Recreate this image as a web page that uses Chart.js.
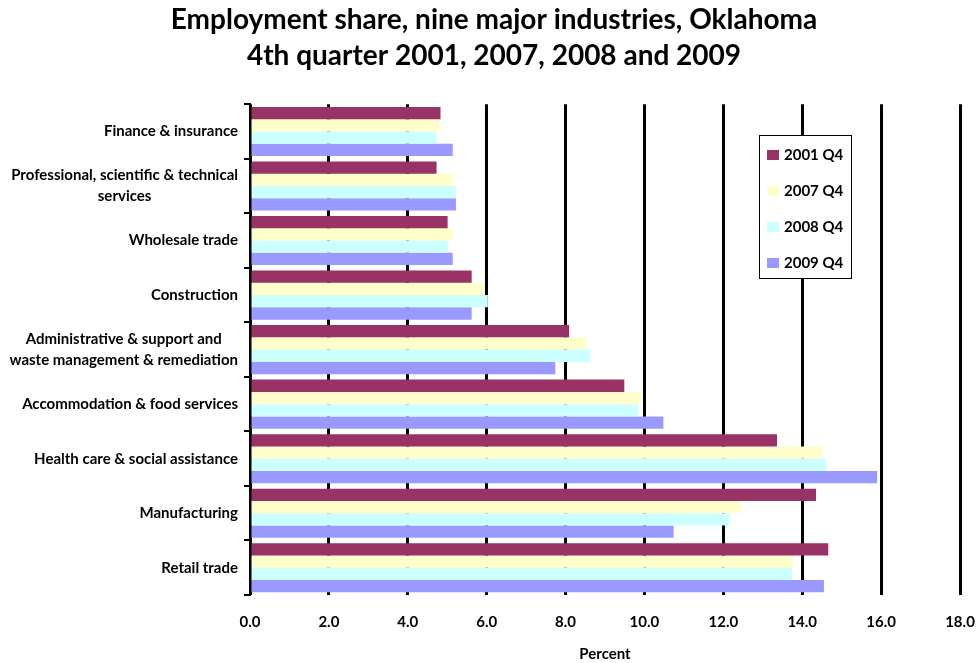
<!DOCTYPE html>
<html>
<head>
<meta charset="utf-8">
<title>Employment share, nine major industries, Oklahoma</title>
<script src="https://cdn.jsdelivr.net/npm/chart.js@4.4.1/dist/chart.umd.min.js"></script>
<style>
  html, body { margin: 0; padding: 0; background: #fff; }
  #wrap { width: 979px; height: 663px; }
</style>
</head>
<body>
<div id="wrap"><canvas id="chart" width="979" height="663"></canvas></div>
<script>
// industries, top to bottom (arrays = wrapped labels)
const industries = [
  'Finance & insurance',
  ['Professional, scientific & technical', 'services'],
  'Wholesale trade',
  'Construction',
  ['Administrative & support and', 'waste management & remediation'],
  'Accommodation & food services',
  'Health care & social assistance',
  'Manufacturing',
  'Retail trade'
];
const quarters = ['2001 Q4', '2007 Q4', '2008 Q4', '2009 Q4'];

// employment share, percent
const share2001 = [4.83, 4.73, 5.01, 5.62, 8.09, 9.49, 13.36, 14.35, 14.66];
const share2007 = [4.83, 5.14, 5.14, 5.94, 8.54, 9.92, 14.53, 12.44, 13.77];
const share2008 = [4.73, 5.22, 5.01, 6.03, 8.63, 9.85, 14.60, 12.16, 13.74];
const share2009 = [5.14, 5.22, 5.14, 5.62, 7.74, 10.48, 15.90, 10.74, 14.55];

const xMin = 0, xMax = 18, xStep = 2;
const colors = ['#993366', '#FFFFCC', '#CCFFFF', '#9999FF'];

const FONT = 'Lato, "Open Sans", sans-serif';

// category labels: right-aligned block, lines centred inside the block
const industryLabels = {
  id: 'industryLabels',
  afterDraw(chart) {
    const ctx = chart.ctx;
    const y = chart.scales.y;
    ctx.save();
    ctx.font = 'bold 15px ' + FONT;
    ctx.fillStyle = '#000';
    ctx.textAlign = 'center';
    ctx.textBaseline = 'middle';
    industries.forEach((cat, i) => {
      const lines = Array.isArray(cat) ? cat : [cat];
      const w = Math.max(...lines.map(l => ctx.measureText(l).width));
      const cx = y.right - 12 - w / 2;
      const cy = y.getPixelForTick(i);
      const lh = 21;
      lines.forEach((l, j) => {
        ctx.fillText(l, cx, cy + (j - (lines.length - 1) / 2) * lh);
      });
    });
    ctx.restore();
  }
};

// boxed legend sitting inside the plot
const boxLegend = {
  id: 'boxLegend',
  afterDatasetsDraw(chart) {
    const ctx = chart.ctx;
    const x0 = 759, y0 = 135, w = 92, h = 143;
    ctx.save();
    ctx.fillStyle = '#fff';
    ctx.fillRect(x0, y0, w, h);
    ctx.strokeStyle = '#000';
    ctx.lineWidth = 1;
    ctx.strokeRect(x0 + 0.5, y0 + 0.5, w, h);
    ctx.font = 'bold 15px ' + FONT;
    ctx.textBaseline = 'middle';
    ctx.textAlign = 'left';
    chart.data.datasets.forEach((ds, i) => {
      const cy = y0 + 20 + i * 36;
      ctx.fillStyle = ds.backgroundColor;
      ctx.fillRect(x0 + 8, cy - 5, 12, 10);
      ctx.fillStyle = '#000';
      ctx.fillText(ds.label, x0 + 25, cy);
    });
    ctx.restore();
  }
};

const values = [share2001, share2007, share2008, share2009];

new Chart(document.getElementById('chart').getContext('2d'), {
  type: 'bar',
  data: {
    labels: industries,
    datasets: quarters.map((q, i) => ({
      label: q,
      data: values[i],
      backgroundColor: colors[i],
      borderWidth: 0,
      barPercentage: 1.0,
      categoryPercentage: 0.9
    }))
  },
  options: {
    indexAxis: 'y',
    responsive: false,
    animation: false,
    layout: { padding: { left: 9, right: 0, top: 0, bottom: 0 } },
    plugins: {
      legend: { display: false },
      tooltip: { enabled: false },
      title: {
        display: true,
        text: ['Employment share, nine major industries, Oklahoma',
               '4th quarter 2001, 2007, 2008 and 2009'],
        color: '#000',
        font: { family: FONT, size: 28, weight: 'bold', lineHeight: 1.29 },
        padding: { top: 2, bottom: 30 }
      }
    },
    scales: {
      x: {
        type: 'linear',
        position: 'bottom',
        min: xMin,
        max: xMax,
        afterFit(scale) {
          scale.height = 68;
          scale.paddingRight = 19;
        },
        ticks: {
          stepSize: xStep,
          color: '#000',
          padding: 18,
          font: { family: FONT, size: 15, weight: 'bold' },
          callback: v => v.toFixed(1)
        },
        grid: {
          color: '#000',
          lineWidth: 3,
          drawTicks: false
        },
        border: { display: false },
        title: {
          display: true,
          text: 'Percent',
          color: '#000',
          font: { family: FONT, size: 15, weight: 'bold' },
          padding: { top: 0, bottom: 0 }
        }
      },
      y: {
        type: 'category',
        afterFit(scale) {
          scale.width = 241;
        },
        ticks: { display: false },
        grid: {
          offset: true,
          drawOnChartArea: false,
          drawTicks: true,
          tickLength: 6,
          color: '#000',
          lineWidth: 2
        },
        border: { display: true, color: '#000', width: 2 }
      }
    }
  },
  plugins: [industryLabels, boxLegend]
});
</script>
</body>
</html>
